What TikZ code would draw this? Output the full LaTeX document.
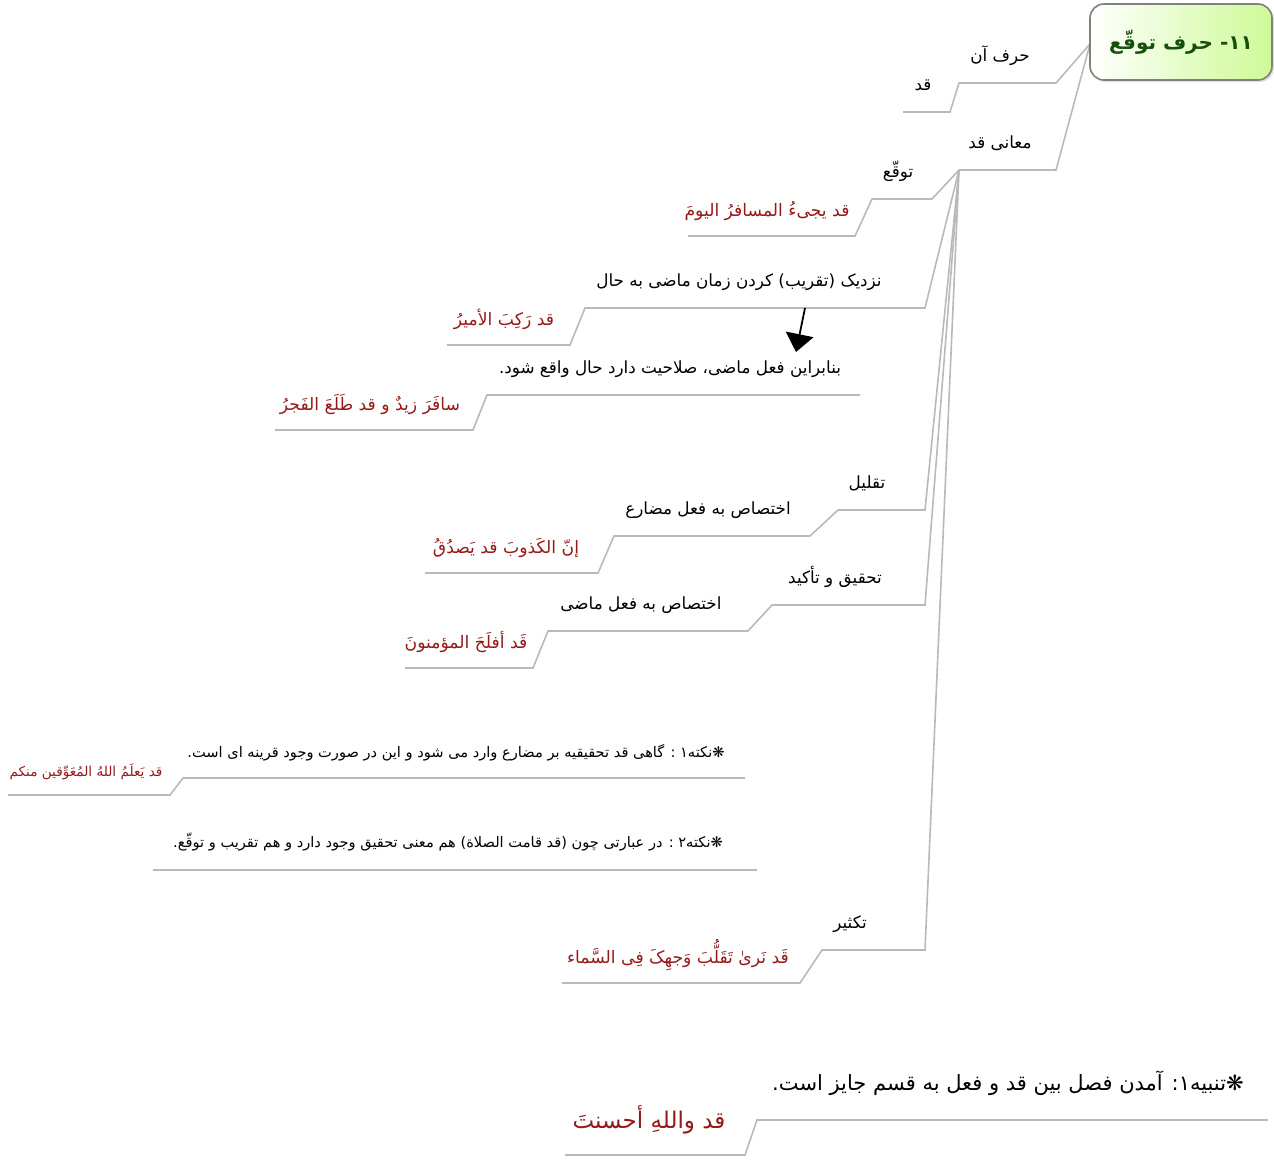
\documentclass[tikz,border=0pt]{standalone}
\usepackage{fontspec}
\newfontfamily\arabicfont[Script=Arabic]{DejaVu Sans}
\TeXXeTstate=1
\usetikzlibrary{arrows.meta,shadows}
\definecolor{linegray}{RGB}{185,185,185}
\definecolor{exred}{RGB}{150,25,25}
\definecolor{rootgreen}{RGB}{20,80,10}
\definecolor{rootfill}{RGB}{205,250,150}
\newcommand{\fatext}[1]{\arabicfont\beginR #1\endR}
\tikzset{br/.append style={draw=linegray, line width=0.8pt}}
\tikzset{tx/.append style={anchor=base, inner sep=0pt, font=\fontsize{8.4}{10}\selectfont}}
\tikzset{ex/.append style={tx, text=exred, font=\fontsize{8.6}{10}\selectfont}}
\tikzset{nt/.append style={tx, font=\fontsize{7.3}{9}\selectfont}}
\tikzset{big/.append style={font=\fontsize{10.5}{13}\selectfont}}
\tikzset{rt/.append style={draw=black!50, line width=0.8pt, rounded corners=7pt, left color=white, right color=rootfill,
    minimum width=91pt, minimum height=38pt, inner sep=2pt, drop shadow={shadow xshift=1pt, shadow yshift=-1pt, opacity=0.25},
    text=rootgreen, font=\fontsize{10}{12}\selectfont\bfseries}}

\begin{document}
\begin{tikzpicture}[x=0.5pt, y=-0.5pt]
                \useasboundingbox (0,0) rectangle (1274,1163);
                % underline ends
                \coordinate (harfL) at (959,83);     \coordinate (harfR) at (1056,83);
                \coordinate (qadL) at (903,112);     \coordinate (qadR) at (950,112);
                \coordinate (maaniL) at (959,170);   \coordinate (maaniR) at (1056,170);
                \coordinate (tavL) at (872,199);     \coordinate (tavR) at (932,199);
                \coordinate (ex1L) at (688,236);     \coordinate (ex1R) at (855,236);
                \coordinate (taqribL) at (585,308);  \coordinate (taqribR) at (925,308);
                \coordinate (ex2L) at (447,345);     \coordinate (ex2R) at (570,345);
                \coordinate (banabarL) at (487,395); \coordinate (banabarR) at (860,395);
                \coordinate (ex3L) at (275,430);     \coordinate (ex3R) at (473,430);
                \coordinate (taqlilL) at (838,510);  \coordinate (taqlilR) at (925,510);
                \coordinate (ekh1L) at (614,536);    \coordinate (ekh1R) at (810,536);
                \coordinate (ex4L) at (425,573);     \coordinate (ex4R) at (598,573);
                \coordinate (tahqiqL) at (772,605);  \coordinate (tahqiqR) at (925,605);
                \coordinate (ekh2L) at (548,631);    \coordinate (ekh2R) at (748,631);
                \coordinate (ex5L) at (405,668);     \coordinate (ex5R) at (533,668);
                \coordinate (nokte1L) at (183,778);  \coordinate (nokte1R) at (745,778);
                \coordinate (ex6L) at (8,795);       \coordinate (ex6R) at (170,795);
                \coordinate (nokte2L) at (153,870);  \coordinate (nokte2R) at (757,870);
                \coordinate (taksirL) at (822,950);  \coordinate (taksirR) at (925,950);
                \coordinate (ex7L) at (562,983);     \coordinate (ex7R) at (800,983);
                \coordinate (tanbihL) at (757,1120); \coordinate (tanbihR) at (1268,1120);
                \coordinate (ex8L) at (565,1155);    \coordinate (ex8R) at (745,1155);
                \coordinate (arrowtail) at (805,308); \coordinate (arrowtip) at (796,352);
                % connectors
                \draw[br] (1090,44) -- (harfR) -- (harfL) -- (qadR) -- (qadL);
                \draw[br] (1090,44) -- (maaniR) -- (maaniL);
                \draw[br] (maaniL) -- (tavR) -- (tavL) -- (ex1R) -- (ex1L);
                \draw[br] (maaniL) -- (taqribR) -- (taqribL) -- (ex2R) -- (ex2L);
                \draw[br] (banabarR) -- (banabarL) -- (ex3R) -- (ex3L);
                \draw[br] (maaniL) -- (taqlilR) -- (taqlilL) -- (ekh1R) -- (ekh1L) -- (ex4R) -- (ex4L);
                \draw[br] (maaniL) -- (tahqiqR) -- (tahqiqL) -- (ekh2R) -- (ekh2L) -- (ex5R) -- (ex5L);
                \draw[br] (nokte1R) -- (nokte1L) -- (ex6R) -- (ex6L);
                \draw[br] (nokte2R) -- (nokte2L);
                \draw[br] (maaniL) -- (taksirR) -- (taksirL) -- (ex7R) -- (ex7L);
                \draw[br] (tanbihR) -- (tanbihL) -- (ex8R) -- (ex8L);
                \draw[line width=0.9pt, -{Triangle[width=14pt,length=9pt]}] (arrowtail) -- (arrowtip);
                % root
                \node[rt] (root) at (1181,42) {\fatext{۱۱- حرف توقّع}};
                % texts
                \node[tx] (harf) at (1000,61) {\fatext{حرف آن}};
                \node[tx] (qad) at (923,90) {\fatext{قد}};
                \node[tx] (maani) at (1000,148) {\fatext{معانی قد}};
                \node[tx] (tav) at (898,177) {\fatext{توقّع}};
                \node[ex] (ex1) at (767,216) {\fatext{قد یجیءُ المسافرُ الیومَ}};
                \node[tx] (taqrib) at (739,286) {\fatext{نزدیک (تقریب) کردن زمان ماضی به حال}};
                \node[ex] (ex2) at (504,325) {\fatext{قد رَکِبَ الأمیرُ}};
                \node[tx] (banabar) at (670,373) {\fatext{بنابراین فعل ماضی، صلاحیت دارد حال واقع شود.}};
                \node[ex] (ex3) at (370,410) {\fatext{سافَرَ زیدٌ و قد طَلَعَ الفَجرُ}};
                \node[tx] (taqlil) at (867,488) {\fatext{تقلیل}};
                \node[tx] (ekh1) at (708,514) {\fatext{اختصاص به فعل مضارع}};
                \node[ex] (ex4) at (506,553) {\fatext{إنّ الکَذوبَ قد یَصدُقُ}};
                \node[tx] (tahqiq) at (835,583) {\fatext{تحقیق و تأکید}};
                \node[tx] (ekh2) at (641,609) {\fatext{اختصاص به فعل ماضی}};
                \node[ex] (ex5) at (466,648) {\fatext{قَد أفلَحَ المؤمنونَ}};
                \node[nt] (nokte1) at (456,757) {\fatext{❋نکته۱ : گاهی قد تحقیقیه بر مضارع وارد می شود و این در صورت وجود قرینه ای است.}};
                \node[ex, font=\fontsize{6.8}{8}\selectfont] (ex6) at (86,776) {\fatext{قد یَعلَمُ اللهُ المُعَوِّقین منکم}};
                \node[nt] (nokte2) at (448,847) {\fatext{❋نکته۲ : در عبارتی چون (قد قامت الصلاة) هم معنی تحقیق وجود دارد و هم تقریب و توقّع.}};
                \node[tx] (taksir) at (850,928) {\fatext{تکثیر}};
                \node[ex] (ex7) at (678,963) {\fatext{قَد نَرىٰ تَقَلُّبَ وَجهِکَ فِی السَّماء}};
                \node[tx, big] (tanbih) at (1008,1090) {\fatext{❋تنبیه۱: آمدن فصل بین قد و فعل به قسم جایز است.}};
                \node[ex, font=\fontsize{11.5}{13}\selectfont] (ex8) at (649,1128) {\fatext{قد واللهِ أحسنتَ}};
            \end{tikzpicture}
\end{document}
